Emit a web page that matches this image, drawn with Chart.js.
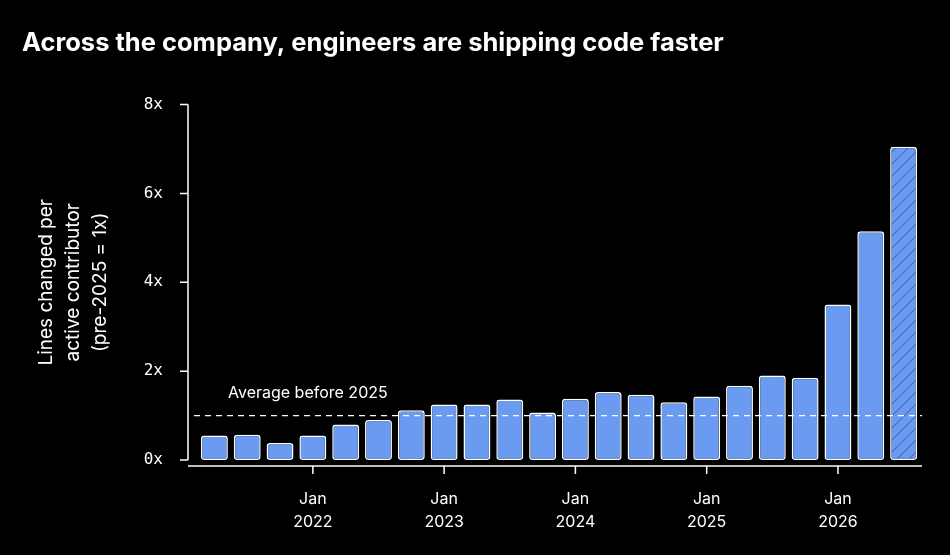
<!DOCTYPE html>
<html lang="en">
<head>
<meta charset="UTF-8">
<title>Lines changed per active contributor</title>
<script src="https://cdn.jsdelivr.net/npm/chart.js"></script>
<style>
  html, body { margin: 0; background: #000; }
  #wrap { width: 950px; height: 555px; }
</style>
</head>
<body>
<div id="wrap"><canvas id="chart"></canvas></div>
<script>
// quarterly buckets, first one is Q2 2021
var quarters = ["2021 Q2","2021 Q3","2021 Q4","2022 Q1","2022 Q2","2022 Q3","2022 Q4","2023 Q1","2023 Q2","2023 Q3","2023 Q4",
  "2024 Q1","2024 Q2","2024 Q3","2024 Q4","2025 Q1","2025 Q2","2025 Q3","2025 Q4","2026 Q1","2026 Q2","2026 Q3"];
var multiplier = [0.55,0.57,0.38,0.55,0.8,0.9,1.12,1.25,1.25,1.36,1.07,1.38,1.53,1.47,1.3,1.43,1.67,1.9,1.85,3.5,5.15,7.05];
var tickLabels = ["","","",["Jan","2022"],"","","",["Jan","2023"],"","","",["Jan","2024"],"","","",["Jan","2025"],"","","",["Jan","2026"],"",""];
var yTicks = [0,2,4,6,8];
var yTitle = ["Lines changed per", "active contributor", "(pre-2025 = 1x)"];
var avgBefore2025 = 1.0;

var blue = "#6b9bf0";

// hatched fill for the last (partial) quarter
var pc = document.createElement("canvas");
pc.width = 12; pc.height = 12;
var p = pc.getContext("2d");
p.fillStyle = blue; p.fillRect(0,0,12,12);
p.strokeStyle = "#4670c4"; p.lineWidth = 1.2;
p.beginPath(); p.moveTo(-2,14); p.lineTo(14,-2); p.moveTo(-2,2); p.lineTo(2,-2); p.moveTo(10,14); p.lineTo(14,10); p.stroke();
var hatch = p.createPattern(pc, "repeat");

var fills = multiplier.map((v,i) => i == multiplier.length-1 ? hatch : blue);

var extras = {
  id: "extras",
  afterDraw(chart) {
    var c = chart.ctx, a = chart.chartArea, y = chart.scales.y, x = chart.scales.x;
    var lx = a.left - 10;
    c.save();
    c.strokeStyle = "#fff"; c.lineWidth = 1.5;
    // y axis line + ticks
    c.beginPath();
    c.moveTo(lx, y.getPixelForValue(8)); c.lineTo(lx, y.getPixelForValue(0));
    yTicks.forEach(t => { var py = y.getPixelForValue(t); c.moveTo(lx-8, py); c.lineTo(lx, py); });
    // x axis line + ticks
    var bx = y.getPixelForValue(0) + 6;
    c.moveTo(lx, bx); c.lineTo(a.right + 2, bx);
    tickLabels.forEach((t,i) => { if (t) { var px = x.getPixelForValue(i); c.moveTo(px, bx); c.lineTo(px, bx+8); } });
    c.stroke();
    // average line
    var ay = y.getPixelForValue(avgBefore2025);
    c.setLineDash([6,5]); c.lineWidth = 1.3;
    c.beginPath(); c.moveTo(a.left - 4, ay); c.lineTo(a.right + 2, ay); c.stroke();
    c.setLineDash([]);
    c.fillStyle = "#fff"; c.font = "16px Inter"; c.textBaseline = "alphabetic";
    c.fillText("Average before 2025", a.left + 30, ay - 18);
    // x labels
    c.font = "16px Inter"; c.textAlign = "center";
    tickLabels.forEach((t,i) => { if (t) { var px = x.getPixelForValue(i); c.fillText(t[0], px, bx+38); c.fillText(t[1], px, bx+61); } });
    // y title, rotated
    c.font = "19px Inter"; c.textBaseline = "middle";
    c.translate(73, (a.top + a.bottom) / 2);
    c.rotate(-Math.PI / 2);
    yTitle.forEach((s,i) => c.fillText(s, 0, (i - 1) * 27));
    c.restore();
  }
};

new Chart(document.getElementById("chart"), {
  type: "bar",
  data: {
    labels: quarters,
    datasets: [{
      data: multiplier,
      backgroundColor: fills,
      borderColor: "#ffffff",
      borderWidth: 1.5,
      borderRadius: 3,
      borderSkipped: false,
      barPercentage: 0.82,
      categoryPercentage: 1
    }]
  },
  options: {
    responsive: true,
    maintainAspectRatio: false,
    animation: false,
    layout: { padding: { left: 22, right: 30, bottom: 87 } },
    plugins: {
      legend: { display: false },
      tooltip: { enabled: false },
      title: {
        display: true, align: "start", color: "#fff",
        text: "Across the company, engineers are shipping code faster",
        font: { family: "Inter", size: 25.5, weight: "bold" },
        padding: { top: 28, bottom: 46 }
      }
    },
    scales: {
      x: {
        grid: { display: false }, border: { display: false },
        ticks: { display: false }
      },
      y: {
        min: 0, max: 8,
        afterBuildTicks(s) { s.ticks = yTicks.map(v => ({ value: v })); },
        grid: { display: false }, border: { display: false },
        ticks: { color: "#fff", padding: 27, font: { family: "DejaVu Sans Mono", size: 16 }, callback: v => v + "x" },
        afterFit(s) { s.width = 198 - 22; }
      }
    }
  },
  plugins: [extras]
});
</script>
</body>
</html>
